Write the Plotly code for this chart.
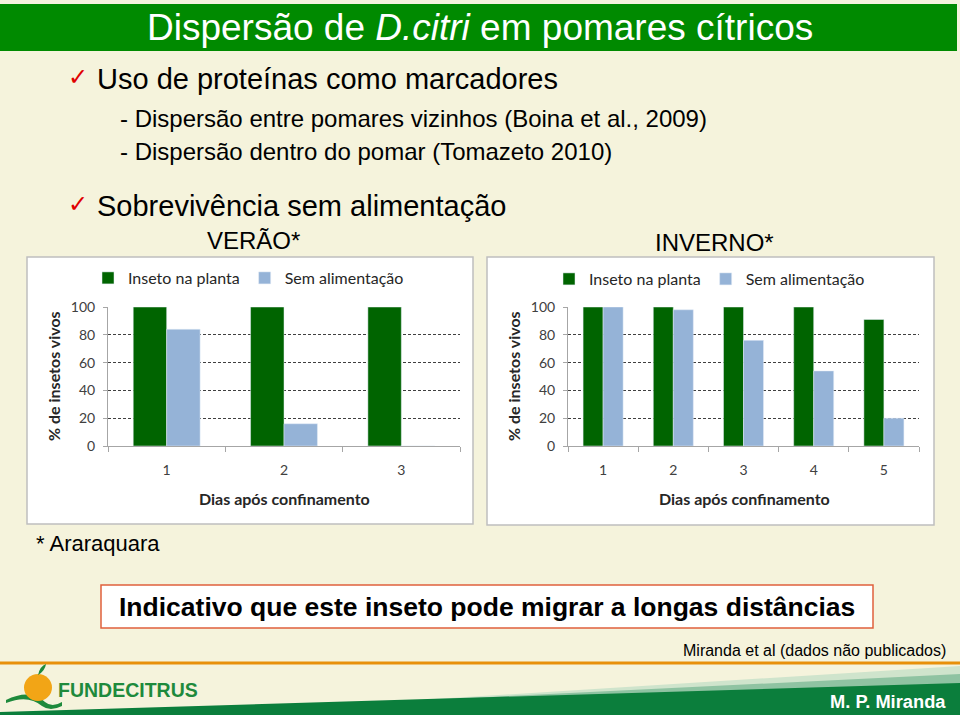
import plotly.graph_objects as go

# ---------------- data ----------------
dias_verao = ["1", "2", "3"]
verao_planta = [100, 100, 100]
verao_sem = [84, 16, 0]

dias_inverno = ["1", "2", "3", "4", "5"]
inverno_planta = [100, 100, 100, 100, 91]
inverno_sem = [100, 98, 76, 54, 20]

y_ticks = [0, 20, 40, 60, 80, 100]
serie_planta = "Inseto na planta"
serie_sem = "Sem alimentação"

W, H = 960, 715
def px(x):
    return x / W
def py(y):
    return 1 - y / H

GREEN_BAR = "#006400"
BLUE_BAR = "#95B3D7"
BG = "#F5F3DC"
SLIDE_FONT = "Liberation Sans"
CHART_FONT = "Lato"

fig = go.Figure()

fig.add_trace(go.Bar(x=dias_verao, y=verao_planta, name=serie_planta, marker_color=GREEN_BAR,
                     xaxis="x", yaxis="y", legend="legend"))
fig.add_trace(go.Bar(x=dias_verao, y=verao_sem, name=serie_sem, marker_color=BLUE_BAR,
                     xaxis="x", yaxis="y", legend="legend"))
fig.add_trace(go.Bar(x=dias_inverno, y=inverno_planta, name=serie_planta, marker_color=GREEN_BAR,
                     xaxis="x2", yaxis="y2", legend="legend2"))
fig.add_trace(go.Bar(x=dias_inverno, y=inverno_sem, name=serie_sem, marker_color=BLUE_BAR,
                     xaxis="x2", yaxis="y2", legend="legend2"))

y_dom = [py(446), py(307)]
axis_common_x = dict(type="category", showline=True, linecolor="#A6A6A6", linewidth=1,
                     ticks="outside", tickson="boundaries", ticklen=5, tickcolor="#A6A6A6",
                     showgrid=False, tickfont=dict(family=CHART_FONT, size=14, color="#404040"),
                     ticklabelstandoff=11, fixedrange=True)
axis_common_y = dict(range=[0, 100], tickvals=y_ticks, showline=True, linecolor="#A6A6A6",
                     ticks="outside", ticklen=4, tickcolor="#A6A6A6", showgrid=True,
                     gridcolor="#404040", griddash="3px,2px", gridwidth=1, zeroline=False,
                     ticklabelstandoff=5,
                     tickfont=dict(family=CHART_FONT, size=14, color="#404040"), fixedrange=True)

fig.update_layout(
    width=W, height=H,
    margin=dict(l=0, r=0, t=0, b=0, autoexpand=False),
    paper_bgcolor=BG, plot_bgcolor="rgba(0,0,0,0)",
    barmode="group", bargap=0.43, bargroupgap=0,
    xaxis=dict(axis_common_x, domain=[px(108), px(460)], anchor="y", range=[-0.5, 2.5]),
    yaxis=dict(axis_common_y, domain=y_dom, anchor="x"),
    xaxis2=dict(axis_common_x, domain=[px(568), px(919)], anchor="y2", range=[-0.5, 4.5]),
    yaxis2=dict(axis_common_y, domain=y_dom, anchor="x2"),
    legend=dict(orientation="h", x=px(88), y=py(261), xanchor="left", yanchor="top",
                bgcolor="rgba(0,0,0,0)", font=dict(family=CHART_FONT, size=16, color="#262626"),
                itemclick=False),
    legend2=dict(orientation="h", x=px(549), y=py(262), xanchor="left", yanchor="top",
                 bgcolor="rgba(0,0,0,0)", font=dict(family=CHART_FONT, size=16, color="#262626"),
                 itemclick=False),
    showlegend=True,
)

shapes = []
# title bar
shapes.append(dict(type="rect", xref="paper", yref="paper", x0=0, x1=px(957), y0=py(51), y1=py(4),
                   fillcolor="#008A00", line=dict(width=0), layer="below"))
# chart panels
shapes.append(dict(type="rect", xref="paper", yref="paper", x0=px(27), x1=px(473), y0=py(524), y1=py(257),
                   fillcolor="white", line=dict(color="#BFBFBF", width=1.5), layer="below"))
shapes.append(dict(type="rect", xref="paper", yref="paper", x0=px(487), x1=px(934), y0=py(525), y1=py(257),
                   fillcolor="white", line=dict(color="#BFBFBF", width=1.5), layer="below"))
# conclusion box
shapes.append(dict(type="rect", xref="paper", yref="paper", x0=px(101), x1=px(873), y0=py(628), y1=py(585),
                   fillcolor="white", line=dict(color="#E0603C", width=1.5), layer="below"))
# footer orange line
shapes.append(dict(type="line", xref="paper", yref="paper", x0=0, x1=1, y0=py(663), y1=py(663),
                   line=dict(color="#E8900A", width=3), layer="below"))
# footer bands
def poly(points, color):
    d = "M " + " L ".join(f"{px(a)},{py(b)}" for a, b in points) + " Z"
    return dict(type="path", xref="paper", yref="paper", path=d, fillcolor=color,
                line=dict(width=0), layer="below")
shapes.append(poly([(180, 715), (960, 666), (960, 715)], "#CFE4CC"))
shapes.append(poly([(120, 715), (960, 674), (960, 715)], "#8FC3A2"))
shapes.append(poly([(0, 712), (960, 683), (960, 715), (0, 715)], "#0B7E3C"))
# logo: swoosh, orange, leaf
shapes.append(dict(type="path", xref="paper", yref="paper",
                   path=f"M {px(6)},{py(700)} Q {px(30)},{py(688)} {px(45)},{py(702)} Q {px(52)},{py(708)} {px(62)},{py(702)} "
                        f"L {px(62)},{py(706)} Q {px(50)},{py(712)} {px(42)},{py(706)} Q {px(28)},{py(694)} {px(6)},{py(703)} Z",
                   fillcolor="#1E8A3C", line=dict(width=0)))
shapes.append(dict(type="circle", xref="paper", yref="paper", x0=px(24), x1=px(52), y0=py(701), y1=py(674),
                   fillcolor="#F2A516", line=dict(width=0)))
shapes.append(dict(type="path", xref="paper", yref="paper",
                   path=f"M {px(38)},{py(675)} Q {px(40)},{py(666)} {px(46)},{py(664)} Q {px(45)},{py(671)} {px(38)},{py(675)} Z",
                   fillcolor="#1E8A3C", line=dict(width=0)))
fig.update_layout(shapes=shapes)

ann = []
def text(x, y, s, size, color="black", family=SLIDE_FONT, xanchor="left", bold=False, angle=0):
    ann.append(dict(xref="paper", yref="paper", x=px(x), y=py(y), text=f"<b>{s}</b>" if bold else s,
                    showarrow=False, xanchor=xanchor, yanchor="middle", textangle=angle,
                    font=dict(family=family, size=size, color=color)))

text(480, 28, "Dispersão de <i>D.citri</i> em pomares cítricos", 37, "white", xanchor="center")
text(66, 77, "✓", 24, "#E00000", family="DejaVu Sans")
text(95, 79, "Uso de proteínas como marcadores", 29)
text(118, 118, "- Dispersão entre pomares vizinhos (Boina et al., 2009)", 24)
text(118, 152, "- Dispersão dentro do pomar (Tomazeto 2010)", 24)
text(66, 204, "✓", 24, "#E00000", family="DejaVu Sans")
text(95, 206, "Sobrevivência sem alimentação", 29)
text(253, 241, "VERÃO*", 24, xanchor="center")
text(714, 242, "INVERNO*", 24, xanchor="center")
# axis titles
text(53, 376, "% de insetos vivos", 16, "#262626", family=CHART_FONT, xanchor="center", bold=True, angle=-90)
text(513, 376, "% de insetos vivos", 16, "#262626", family=CHART_FONT, xanchor="center", bold=True, angle=-90)
text(284, 498, "Dias após confinamento", 16, "#262626", family=CHART_FONT, xanchor="center", bold=True)
text(744, 498, "Dias após confinamento", 16, "#262626", family=CHART_FONT, xanchor="center", bold=True)
text(34, 543, "* Araraquara", 22)
text(487, 607, "Indicativo que este inseto pode migrar a longas distâncias", 26.5, xanchor="center", bold=True)
text(948, 650, "Miranda et al (dados não publicados)", 16, xanchor="right")
text(56, 690, "FUNDECITRUS", 19.5, "#1E8A3C", xanchor="left", bold=True)
text(948, 701, "M. P. Miranda", 18.3, "white", xanchor="right", bold=True)
fig.update_layout(annotations=ann)

fig.write_html("out.html")
